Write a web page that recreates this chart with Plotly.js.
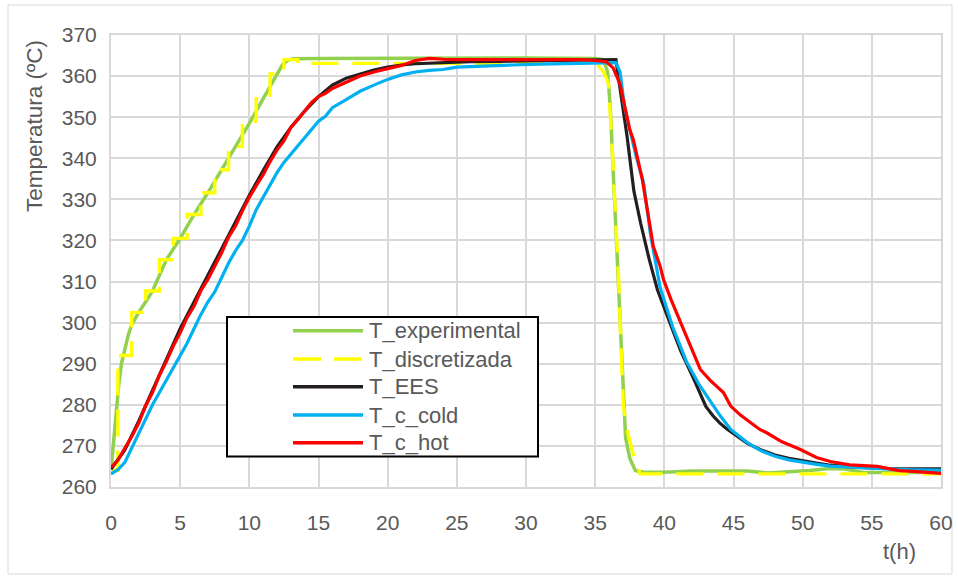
<!DOCTYPE html>
<html>
<head>
<meta charset="utf-8">
<script src="https://cdn.plot.ly/plotly-3.0.1.min.js"></script>
<style>
html,body{margin:0;padding:0;background:#fff;}
#chart{width:958px;height:579px;}
</style>
</head>
<body>
<div id="chart"></div>
<script>
// ---- Data ----
const seriesNames = ["T_experimental", "T_discretizada", "T_EES", "T_c_cold", "T_c_hot"];

const expT = [0, 0.1, 0.25, 0.4, 0.55, 0.75, 1, 1.25, 1.5, 2, 2.5, 3, 3.5, 4, 5, 6, 7, 8, 9, 10, 11, 11.5, 12, 12.4, 12.8, 13.2, 15, 20, 25, 30, 35, 35.6, 35.9, 36.1, 36.3, 36.6, 36.9, 37.2, 37.5, 37.9, 38.5, 40, 42, 44, 46, 47.5, 49, 50.5, 52, 53, 54.5, 56, 58, 60];
const expV = [264, 268, 273.5, 279, 284.5, 290, 294, 297, 299.5, 302.5, 305, 307.7, 311.5, 315.3, 320.5, 326.3, 331.6, 337.2, 342.9, 348.5, 354.5, 357.4, 360.5, 362.8, 363.9, 364.2, 364.3, 364.4, 364.4, 364.4, 364.3, 364, 361, 352, 337, 315, 292, 272, 267, 264, 263.6, 263.6, 263.9, 264, 263.9, 263.4, 263.6, 264, 264.5, 264.4, 263.5, 263.5, 263.4, 263.5];

// discretised staircase: level held from each step time until the next one
const stepT = [0, 0.5, 1.5, 2.5, 3.5, 4.5, 5.5, 6.5, 7.5, 8.5, 9.5, 10.5, 11.5, 12.5, 13.5];
const stepV = [264, 292, 302.5, 307.7, 315.3, 320.5, 326.3, 331.6, 337.2, 342.9, 349, 354.5, 360.5, 364, 363.1];
// cooling part of the discretised curve
const dropT = [35.1, 35.6, 35.96, 36.2, 36.44, 36.7, 36.85, 37.04, 37.3, 37.65, 38.25, 40, 45, 50, 55, 60];
const dropV = [363.1, 361, 358.3, 344.5, 328.3, 310.5, 296, 279.7, 274, 269.2, 263.2, 263.2, 263.2, 263.2, 263.2, 263.2];

const eesT = [0, 1, 2, 3, 4, 5, 6, 7, 8, 9, 10, 11, 12, 13, 14, 15, 16, 17, 18, 19, 20, 21, 22, 24, 26, 28, 30, 32, 34, 35, 36, 36.5, 36.8, 37.3, 37.8, 38.3, 38.9, 39.5, 40.4, 41.2, 42.1, 42.6, 43, 43.5, 44, 44.5, 45, 46, 47, 48, 49, 50, 51, 52, 54, 56, 58, 60];
const eesV = [264.3, 269, 276, 283.5, 291, 298.5, 305, 311.5, 318, 324.5, 331, 337, 342.8, 347.5, 351.5, 355, 357.8, 359.5, 360.6, 361.5, 362.2, 362.7, 363, 363.3, 363.5, 363.6, 363.7, 363.8, 363.9, 364, 364, 364, 357, 345.5, 332, 324, 315.5, 308, 300, 293, 286.5, 282.6, 279.6, 277.4, 275.6, 274.2, 273, 270.6, 269, 267.8, 267, 266.3, 265.8, 265.3, 264.8, 264.5, 264.4, 264.4];

const coldT = [0, 0.5, 1, 1.5, 2, 2.5, 3, 3.5, 4, 4.5, 5, 5.5, 6, 6.5, 7, 7.5, 8, 8.5, 9, 9.5, 10, 10.5, 11, 11.5, 12, 12.5, 13, 13.5, 14, 14.5, 15, 15.5, 16, 17, 18, 19, 20, 21, 22, 23, 24, 25, 27, 29, 31, 33, 35, 36.5, 36.8, 37.1, 37.5, 38, 38.5, 39, 39.7, 40.6, 41.6, 42.5, 43.3, 44, 44.8, 46, 47, 48, 49, 50, 51, 52, 54, 56, 58, 60];
const coldV = [263.2, 264.2, 266, 269.5, 273.3, 276.5, 280, 283, 286, 289.3, 292, 295, 298.5, 302, 305, 307.5, 311, 314.5, 317.5, 320, 323.5, 327.5, 330.5, 333.5, 336.5, 339, 341, 343, 345.2, 347.3, 349, 350.2, 352.3, 354.3, 356.3, 357.8, 359.2, 360.3, 361, 361.4, 361.6, 362.2, 362.5, 362.7, 362.9, 363.1, 363.3, 363.3, 361, 353, 347, 340, 334, 321.5, 308.5, 299, 290.5, 285, 281, 277.5, 274, 270.8, 268.8, 267.5, 266.6, 266, 265.5, 265.1, 264.7, 264.4, 264.2, 264.1];

const hotT = [0, 0.5, 1, 1.5, 2, 2.5, 3, 3.5, 4, 4.5, 5, 5.5, 6, 6.5, 7, 7.5, 8, 8.5, 9, 9.5, 10, 10.5, 11, 11.5, 12, 12.5, 13, 13.5, 14, 14.5, 15, 15.5, 16, 17, 18, 19, 20, 21, 22, 23, 24, 25, 30, 34, 35, 35.8, 36.3, 36.56, 36.8, 37.04, 37.5, 37.76, 38.4, 38.97, 39.2, 39.7, 39.94, 40.5, 41.38, 42, 42.6, 43.3, 44.27, 44.8, 45.5, 46.9, 47.4, 48.5, 49.8, 51, 52, 53.4, 55.4, 56.5, 57, 58, 59.5, 60];
const hotV = [264.8, 266.5, 269.5, 272.3, 275.5, 279.8, 283, 287.2, 290.5, 294.3, 297.5, 301.2, 304, 307.8, 310.5, 313.8, 317, 320.8, 323.5, 327.2, 330.5, 333.3, 336, 339.2, 342, 344.2, 347.5, 349.4, 351.5, 353.6, 355, 355.8, 357, 358.5, 360, 361, 361.8, 362.6, 363.8, 364.3, 364.1, 364, 364, 364, 363.8, 363.5, 362, 359.9, 358, 354.2, 347, 344.5, 335, 323.4, 318.6, 313.7, 310.5, 305.5, 298.4, 293, 288.6, 286, 283, 279.7, 277.5, 274, 273.2, 271, 269.2, 267.2, 266.2, 265.4, 265, 264.3, 264, 263.8, 263.4, 263.3];

const xTicks = [0, 5, 10, 15, 20, 25, 30, 35, 40, 45, 50, 55, 60];
const yTicks = [260, 270, 280, 290, 300, 310, 320, 330, 340, 350, 360, 370];
const colors = ["#92D050", "#FFFF00", "#231F20", "#00B0F0", "#FF0000"];

// build staircase path from the step arrays
const discX = [], discY = [];
for (let i = 0; i < stepT.length; i++) {
  if (i > 0) { discX.push(stepT[i]); discY.push(stepV[i - 1]); }
  discX.push(stepT[i]); discY.push(stepV[i]);
}
for (let i = 0; i < dropT.length; i++) { discX.push(dropT[i]); discY.push(dropV[i]); }

// ---- Layout geometry ----
const L = 111, R = 941, T = 35, B = 487;
const W = 958, H = 579;
const px = x => (x - L) / (R - L);
const py = y => (B - y) / (B - T);

const dashStr = "27px,14px";
const traces = [
  {x: expT, y: expV, color: colors[0], w: 3.5, dash: "solid"},
  {x: discX, y: discY, color: colors[1], w: 3.4, dash: dashStr},
  {x: eesT, y: eesV, color: colors[2], w: 3.2, dash: "solid"},
  {x: coldT, y: coldV, color: colors[3], w: 3.2, dash: "solid"},
  {x: hotT, y: hotV, color: colors[4], w: 3.2, dash: "solid"}
].map((s, i) => ({
  type: "scatter", mode: "lines", name: seriesNames[i], x: s.x, y: s.y,
  line: {color: s.color, width: s.w, dash: s.dash}, hoverinfo: "skip"
}));

const font = "Liberation Sans, Arial, sans-serif";
const txt = "#595959";
const grid = "#d9d9d9";

// custom legend
const legRowsY = [330.7, 359, 386.7, 415, 442.7];
const shapes = [
  {type: "rect", xref: "paper", yref: "paper", x0: px(8), x1: px(952), y0: py(574), y1: py(5),
   line: {color: "#d9d9d9", width: 1}, fillcolor: "rgba(0,0,0,0)", layer: "below"},
  {type: "rect", xref: "paper", yref: "paper", x0: px(227), x1: px(538), y0: py(456.5), y1: py(317),
   line: {color: "#000", width: 2}, fillcolor: "#fff", layer: "above"}
];
const annotations = [];
seriesNames.forEach((n, i) => {
  shapes.push({type: "line", xref: "paper", yref: "paper", x0: px(293), x1: px(363),
    y0: py(legRowsY[i]), y1: py(legRowsY[i]), layer: "above",
    line: {color: colors[i], width: 3.5, dash: i === 1 ? "28px,13px" : "solid"}});
  annotations.push({xref: "paper", yref: "paper", x: px(367), y: py(legRowsY[i]),
    xanchor: "left", yanchor: "middle", showarrow: false, text: n,
    font: {family: font, size: 22, color: txt}});
});
annotations.push({xref: "paper", yref: "paper", x: px(34), y: py(126), textangle: -90,
  xanchor: "center", yanchor: "middle", showarrow: false, text: "Temperatura (ºC)",
  font: {family: font, size: 22.5, color: txt}});
annotations.push({xref: "paper", yref: "paper", x: px(899), y: py(551),
  xanchor: "center", yanchor: "middle", showarrow: false, text: "t(h)",
  font: {family: font, size: 22, color: txt}});

const layout = {
  width: W, height: H,
  margin: {l: L, r: W - R, t: T, b: H - B, pad: 0},
  paper_bgcolor: "#fff", plot_bgcolor: "#fff",
  showlegend: false,
  xaxis: {range: [0, 60], tickvals: xTicks, ticktext: xTicks.map(String), showgrid: true,
    gridcolor: grid, gridwidth: 2, zeroline: false, showline: true, linecolor: grid, linewidth: 2, mirror: true,
    ticks: "outside", ticklen: 16, tickcolor: "rgba(0,0,0,0)",
    tickfont: {family: font, size: 21, color: txt}, fixedrange: true},
  yaxis: {range: [260, 370], tickvals: yTicks, ticktext: yTicks.map(String), showgrid: true,
    gridcolor: grid, gridwidth: 2, zeroline: false, showline: true, linecolor: grid, linewidth: 2, mirror: true,
    ticks: "outside", ticklen: 8, tickcolor: "rgba(0,0,0,0)",
    tickfont: {family: font, size: 21, color: txt}, fixedrange: true},
  shapes: shapes,
  annotations: annotations
};

Plotly.newPlot("chart", traces, layout, {displayModeBar: false, staticPlot: true});
</script>
</body>
</html>
